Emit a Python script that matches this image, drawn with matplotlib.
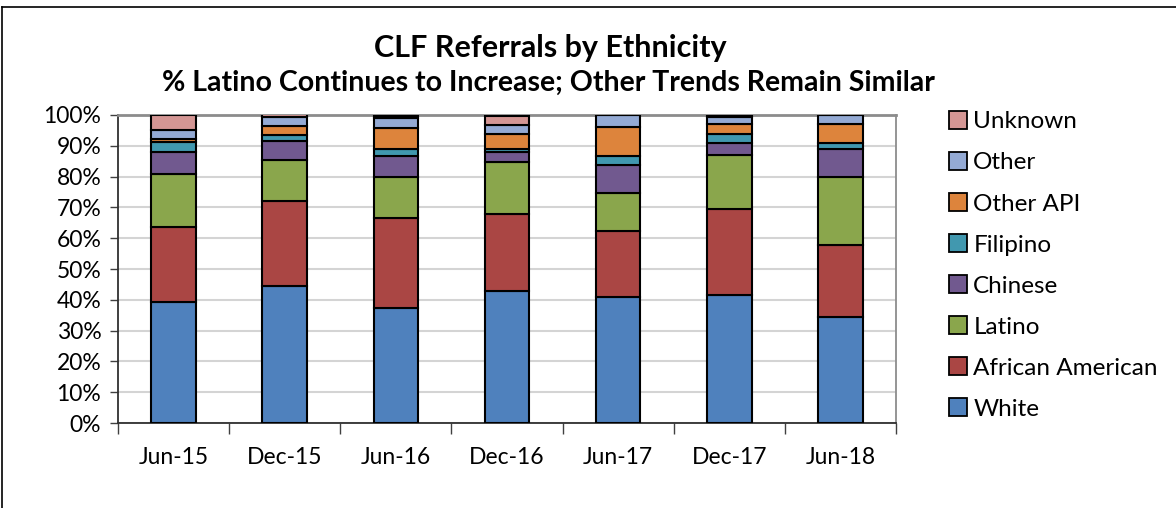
import matplotlib
matplotlib.use("Agg")
import matplotlib.pyplot as plt
import matplotlib.patches as mpatches
from matplotlib.lines import Line2D
from matplotlib.ticker import PercentFormatter

# data (percent of referrals)
periods = ["Jun-15", "Dec-15", "Jun-16", "Dec-16", "Jun-17", "Dec-17", "Jun-18"]
white    = [39.4, 44.5, 37.5, 43.0, 40.9, 41.4, 34.4]
african  = [24.3, 27.7, 29.2, 25.0, 21.5, 28.2, 23.3]
latino   = [17.2, 13.1, 13.1, 16.9, 12.2, 17.3, 22.2]
chinese  = [7.2, 6.1, 6.9, 3.0, 9.2, 4.0, 9.2]
filipino = [3.2, 2.0, 2.2, 1.1, 3.0, 3.0, 1.9]
oth_api  = [0.8, 2.9, 6.9, 4.7, 9.2, 3.2, 6.0]
other    = [3.0, 3.0, 3.1, 3.2, 4.0, 2.1, 3.0]
unknown  = [4.9, 0.9, 0.9, 2.9, 0.0, 0.8, 0.0]

series = [
    ("White",            white,    "#4F81BD"),
    ("African American", african,  "#AA4644"),
    ("Latino",           latino,   "#8AA64C"),
    ("Chinese",          chinese,  "#71598F"),
    ("Filipino",         filipino, "#4198AF"),
    ("Other API",        oth_api,  "#DD843C"),
    ("Other",            other,    "#94AAD4"),
    ("Unknown",          unknown,  "#D49694"),
]

FONT = "Lato"
W, H = 1176, 508

fig = plt.figure(figsize=(W / 100, H / 100), dpi=100)
ax = fig.add_axes([118 / W, (H - 423) / H, (896 - 118) / W, (423 - 115) / H])

x = list(range(len(periods)))
bottom = [0.0] * len(periods)
handles = []
for name, vals, col in series:
    ax.bar(x, vals, width=0.4, bottom=bottom, color=col,
           edgecolor="black", linewidth=1.5, zorder=3)
    bottom = [b + v for b, v in zip(bottom, vals)]
    handles.append(mpatches.Patch(facecolor=col, edgecolor="black",
                                  linewidth=1.3, label=name))

ax.set_xlim(-0.5, len(periods) - 0.5)
ax.set_ylim(0, 100)
ax.set_yticks(range(0, 101, 10))
ax.yaxis.set_major_formatter(PercentFormatter(decimals=0))
ax.set_xticks(x)
ax.set_xticklabels(periods)
ax.set_xticks([i - 0.5 for i in range(len(periods) + 1)], minor=True)
ax.tick_params(axis="x", which="major", length=0, pad=17)
ax.tick_params(axis="x", which="minor", length=8, width=1.0, color="#404040",
               direction="out")
ax.tick_params(axis="y", length=6, width=1.0, color="#404040", pad=6)
for lab in ax.get_xticklabels() + ax.get_yticklabels():
    lab.set_fontfamily(FONT)
    lab.set_fontsize(16.5)

ax.grid(axis="y", color="#D4D4D4", linewidth=1.5, zorder=0)
ax.spines["left"].set_color("#303030")
ax.spines["bottom"].set_color("#303030")
ax.spines["left"].set_linewidth(1.3)
ax.spines["bottom"].set_linewidth(1.3)
ax.spines["top"].set_color("#8C8C8C")
ax.spines["top"].set_linewidth(2.0)
ax.spines["right"].set_color("#8C8C8C")
ax.spines["right"].set_linewidth(1.3)

fig.text(550 / W, 1 - 48 / H, "CLF Referrals by Ethnicity",
         ha="center", va="center", fontsize=22, fontweight="bold",
         family=FONT)
fig.text(548 / W, 1 - 83 / H,
         "% Latino Continues to Increase; Other Trends Remain Similar",
         ha="center", va="center", fontsize=20.5, fontweight="bold",
         family=FONT)

leg = fig.legend(handles=handles[::-1], loc="upper left",
                 bbox_to_anchor=(949 / W, 1 - 111 / H),
                 frameon=False, prop={"family": FONT, "size": 17.5},
                 handlelength=0.75, handleheight=0.75, handletextpad=0.25,
                 labelspacing=0.81, borderpad=0, borderaxespad=0)

# chart area border (top and left edges are visible)
fig.add_artist(Line2D([2 / W, 2 / W], [0, 1 - 7 / H], color="black",
                      linewidth=1.2, transform=fig.transFigure))
fig.add_artist(Line2D([2 / W, 1], [1 - 7 / H, 1 - 7 / H], color="black",
                      linewidth=1.2, transform=fig.transFigure))

fig.savefig("out.png", dpi=100)
